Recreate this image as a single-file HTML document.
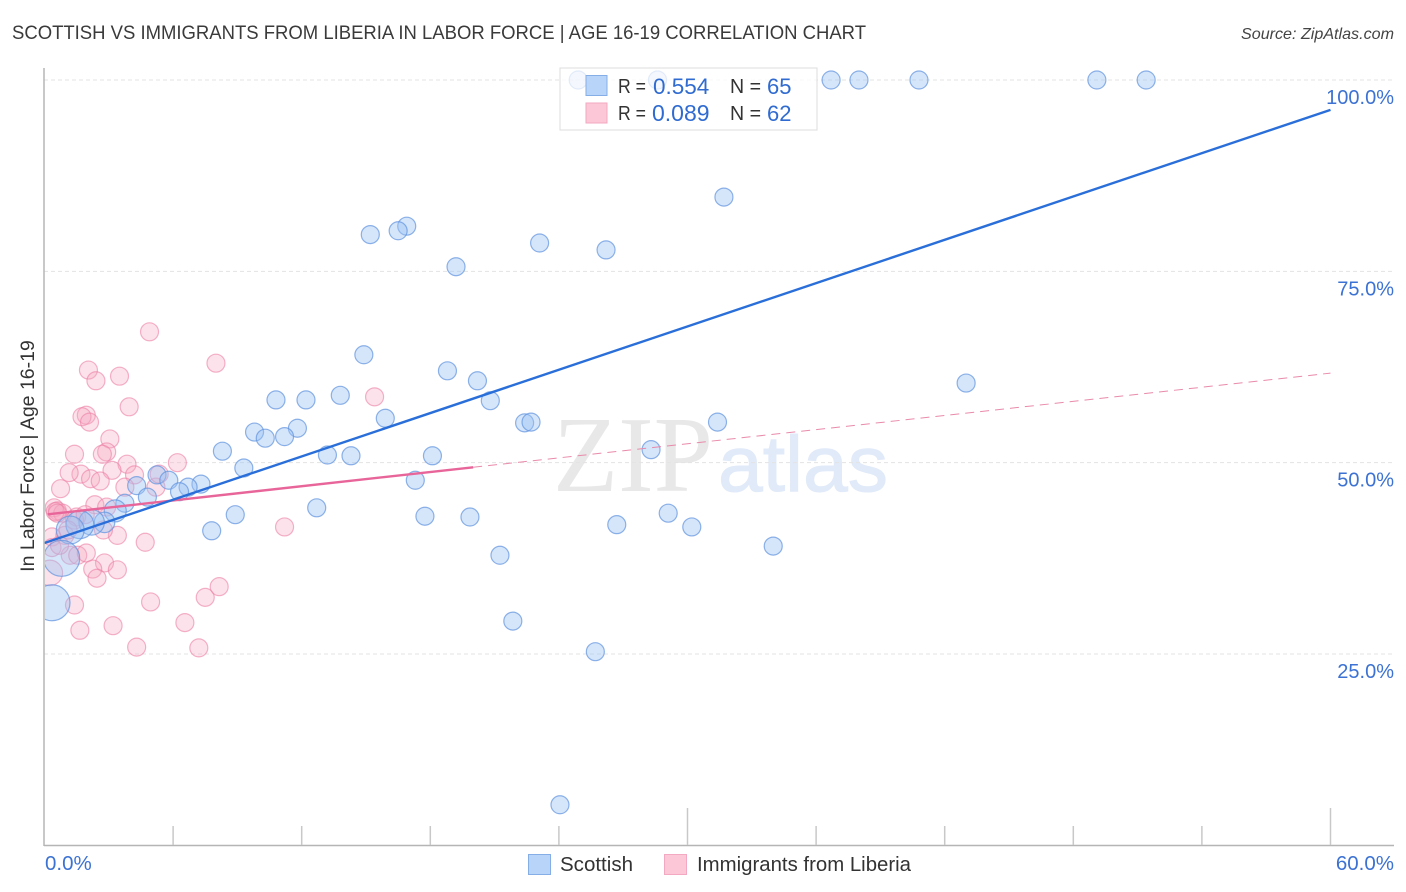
<!DOCTYPE html>
<html lang="en">
<head>
<meta charset="utf-8">
<title>Scottish vs Immigrants from Liberia in Labor Force | Age 16-19 Correlation Chart</title>
<style>
html,body{margin:0;padding:0;background:#fff;}
svg{display:block;font-family:"Liberation Sans",sans-serif;}
</style>
</head>
<body>
<svg id="chart" xmlns="http://www.w3.org/2000/svg" width="1406" height="892" viewBox="0 0 1406 892">
  <defs><clipPath id="plot-clip"><rect x="45" y="60" width="1349" height="785"/></clipPath></defs>
  <rect width="1406" height="892" fill="#fff"/>
  <text x="12" y="39" font-size="19" fill="#3a3a3a" textLength="854" lengthAdjust="spacingAndGlyphs">SCOTTISH VS IMMIGRANTS FROM LIBERIA IN LABOR FORCE | AGE 16-19 CORRELATION CHART</text>
  <text x="1394" y="39" font-size="16" font-style="italic" fill="#444" text-anchor="end" textLength="153" lengthAdjust="spacingAndGlyphs">Source: ZipAtlas.com</text>
  <g>
    <text x="553" y="491" font-family="'Liberation Serif',serif" font-size="108" fill="#e8e8e8" textLength="160" lengthAdjust="spacingAndGlyphs">ZIP</text>
    <text x="718" y="491" font-size="79" fill="#e1eaf8" stroke="#e1eaf8" stroke-width="1" textLength="170" lengthAdjust="spacingAndGlyphs">atlas</text>
  </g>
  <g id="grid"></g>
  <g id="pink-dots" clip-path="url(#plot-clip)"></g>
  <g id="blue-dots" clip-path="url(#plot-clip)"></g>
  <g id="trends"></g>
  <g id="axes"></g>
  <g id="y-labels"></g>
  <g id="x-labels"></g>
  <text transform="translate(34,456) rotate(-90)" font-size="19.5" fill="#333" text-anchor="middle">In Labor Force | Age 16-19</text>

  <g>
    <rect x="560" y="68" width="257" height="62" fill="#fff" fill-opacity="0.74" stroke="#ddd" stroke-width="1"/>
    <rect x="586" y="75.500" width="21" height="20" fill="#b8d4f8" stroke="#86aee6"/>
    <rect x="586" y="103" width="21" height="20" fill="#fcc8d8" stroke="#f3a9c1"/>
    <text x="618" y="93" font-size="20" fill="#333" textLength="28" lengthAdjust="spacingAndGlyphs">R =</text>
    <text x="653" y="94" font-size="22.500" fill="#2f6bd0">0.554</text>
    <text x="730" y="93" font-size="20" fill="#333" textLength="31" lengthAdjust="spacingAndGlyphs">N =</text>
    <text x="767" y="94" font-size="22" fill="#2f6bd0">65</text>
    <text x="618" y="120" font-size="20" fill="#333" textLength="28" lengthAdjust="spacingAndGlyphs">R =</text>
    <text x="652" y="121" font-size="23" fill="#2f6bd0">0.089</text>
    <text x="730" y="120" font-size="20" fill="#333" textLength="31" lengthAdjust="spacingAndGlyphs">N =</text>
    <text x="767" y="121" font-size="22" fill="#2f6bd0">62</text>
  </g>

  <g>
    <rect x="528.500" y="854.500" width="22" height="20" fill="#b8d4f8" stroke="#86aee6"/>
    <text x="560" y="871" font-size="20" fill="#333" textLength="73" lengthAdjust="spacingAndGlyphs">Scottish</text>
    <rect x="664.500" y="854.500" width="22" height="20" fill="#fcc8d8" stroke="#f3a9c1"/>
    <text x="697" y="871" font-size="20" fill="#333" textLength="214" lengthAdjust="spacingAndGlyphs">Immigrants from Liberia</text>
  </g>
</svg>
<script>
const scottishX = [24.9,28.6,36.7,38.0,40.8,49.1,51.4,31.7,16.9,16.5,15.2,23.1,26.2,19.2,14.9,18.8,20.2,43.0,13.8,10.8,12.2,20.8,15.9,22.4,22.7,31.4,11.8,9.8,10.3,11.2,8.3,28.3,13.2,14.3,18.1,9.3,5.25,5.8,17.3,7.3,6.7,4.3,6.3,4.8,3.75,12.7,29.1,8.9,3.3,17.75,19.85,7.8,26.7,30.2,34.0,21.25,21.85,25.7,24.05,2.8,2.2,1.65,1.2,0.8,0.35];
const scottishY = [100,100,100,100,100,100,100,84.7,80.9,80.3,79.8,78.7,77.8,75.6,64.1,62.0,60.7,60.4,58.8,58.2,58.2,58.1,55.8,55.2,55.3,55.3,54.5,54.0,53.2,53.4,51.5,51.7,51.0,50.9,50.9,49.3,48.4,47.7,47.7,47.2,46.8,47.0,46.2,45.5,44.7,44.1,43.4,43.2,43.7,43.0,42.9,41.1,41.9,41.6,39.1,37.9,29.3,25.3,5.3,42.2,42.2,41.9,41.2,37.5,31.7];
const scottishWeight = [1,1,1,1,1,1,1,1,1,1,1,1,1,1,1,1,1,1,1,1,1,1,1,1,1,1,1,1,1,1,1,1,1,1,1,1,1,1,1,1,1,1,1,1,1,1,1,1,1.5,1,1,1,1,1,1,1,1,1,1,1.3,2,2.4,2.4,4,4];
const liberiaX = [4.9,8.0,2.05,2.4,3.5,3.95,1.95,1.75,2.1,3.05,1.4,2.9,2.7,6.2,3.85,3.15,1.7,1.15,2.15,2.6,4.2,0.75,3.75,5.2,5.35,15.4,2.35,2.9,0.45,0.6,0.85,0.5,0.6,1.5,3.4,2.75,4.7,0.35,0.35,0.95,1.2,1.55,1.95,2.8,2.25,3.4,2.45,0.25,1.4,1.65,3.2,4.3,4.95,6.55,7.2,7.5,8.15,11.2,1.4,1.1,1.9,0.7];
const liberiaY = [67.1,63.0,62.1,60.7,61.3,57.3,56.2,56.0,55.3,53.1,51.1,51.4,51.1,50.0,49.8,49.0,48.5,48.7,47.9,47.6,48.4,46.6,46.8,46.8,48.5,58.6,44.5,44.2,44.1,43.7,43.4,43.6,43.4,42.9,40.5,41.2,39.6,40.3,38.9,40.5,37.9,37.9,38.2,36.9,36.1,36.0,34.9,35.6,31.4,28.1,28.7,25.9,31.8,29.1,25.8,32.4,33.8,41.6,42.5,41.2,43.2,39.2];
const liberiaWeight = [1,1,1,1,1,1,1,1,1,1,1,1,1,1,1,1,1,1,1,1,1,1,1,1,1,1,1,1,1,1,1,1,1,1,1,1,1,1,1,1,1,1,1,1,1,1,1,2,1,1,1,1,1,1,1,1,1,1,1,1,1,1];
const yTicks = [25,50,75,100];
const yTickLabels = ["25.0%","50.0%","75.0%","100.0%"];
const xTicks = [6,12,18,24,30,36,42,48,54,60];
const xMajorTicks = [30,60];
const scottishTrend = [39.5,96.1];
const liberiaTrend = [43.25,49.4,61.7];

const NS = "http://www.w3.org/2000/svg";
function sx(v){ return 44.5 + v * (1286 / 60); }
function sy(v){ return 654 - (v - 25) * (574 / 75); }
function rad(w){ return 9 * Math.sqrt(w); }
function make(parent, tag, attrs, name){
  const el = document.createElementNS(NS, tag);
  for (const k in attrs) el.setAttribute(k, attrs[k]);
  
  
  document.getElementById(parent).appendChild(el);
  return el;
}
yTicks.forEach(function(t, i){
  make('grid', 'line', {x1:44, x2:1393, y1:sy(t), y2:sy(t), stroke:'#e3e3e3', 'stroke-width':1, 'stroke-dasharray':'4 3'}, 'gridline-y');
  const lab = make('y-labels', 'text', {x:1394, y:sy(t)+24, 'font-size':20, fill:'#3c72d3', 'text-anchor':'end'}, 'y-tick-label');
  lab.textContent = yTickLabels[i];
});
liberiaX.forEach(function(x, i){
  make('pink-dots', 'circle', {cx:sx(x), cy:sy(liberiaY[i]), r:rad(liberiaWeight[i]), fill:'#f7a8c2', 'fill-opacity':0.32, stroke:'#ec7fa5', 'stroke-opacity':0.6, 'stroke-width':1.2}, 'liberia-point');
});
scottishX.forEach(function(x, i){
  make('blue-dots', 'circle', {cx:sx(x), cy:sy(scottishY[i]), r:rad(scottishWeight[i]), fill:'#9cc2f2', 'fill-opacity':0.42, stroke:'#5f93de', 'stroke-opacity':0.7, 'stroke-width':1.2}, 'scottish-point');
});
make('trends', 'line', {x1:sx(20), y1:sy(liberiaTrend[1]), x2:sx(60), y2:sy(liberiaTrend[2]), stroke:'#e98aab', 'stroke-width':1, 'stroke-dasharray':'9 6'}, 'liberia-trend-projection');
make('trends', 'line', {x1:sx(0.15), y1:sy(liberiaTrend[0]), x2:sx(20), y2:sy(liberiaTrend[1]), stroke:'#e8659a', 'stroke-width':2.4}, 'liberia-trend-line');
make('trends', 'line', {x1:sx(0), y1:sy(scottishTrend[0]), x2:sx(60), y2:sy(scottishTrend[1]), stroke:'#2a6fd9', 'stroke-width':2.4}, 'scottish-trend-line');
make('axes', 'line', {x1:44, y1:68, x2:44, y2:846, stroke:'#b5b5b5', 'stroke-width':1.5}, 'y-axis');
make('axes', 'line', {x1:44, y1:845.5, x2:1394, y2:845.5, stroke:'#b5b5b5', 'stroke-width':1.5}, 'x-axis');
xTicks.forEach(function(t){
  const top = xMajorTicks.indexOf(t) >= 0 ? 808 : 826;
  make('axes', 'line', {x1:sx(t), y1:top, x2:sx(t), y2:845, stroke:'#c8c8c8', 'stroke-width':1.5}, 'x-tick');
});
const xMin = make('x-labels', 'text', {x:45, y:870, 'font-size':20.5, fill:'#3c72d3'}, 'x-tick-label-min');
xMin.textContent = "0.0%";
const xMax = make('x-labels', 'text', {x:1394, y:870, 'font-size':20.5, fill:'#3c72d3', 'text-anchor':'end'}, 'x-tick-label-max');
xMax.textContent = "60.0%";
</script>
</body>
</html>
